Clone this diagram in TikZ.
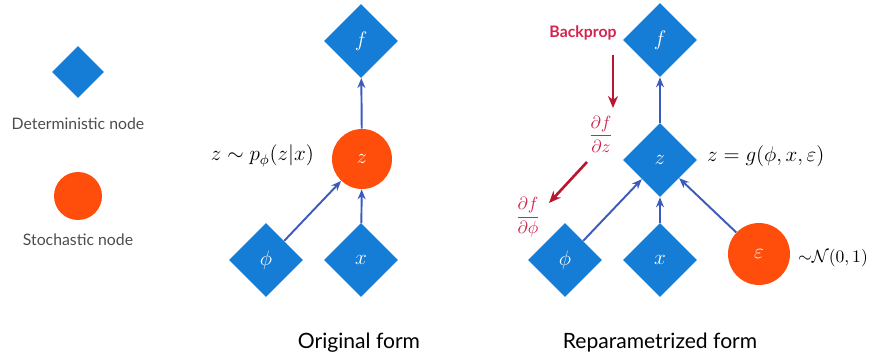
\documentclass[tikz,border=0pt]{standalone}
\usepackage{amsmath,amssymb}
\usepackage{fontspec}
\usepackage{xcolor}
\usepackage{tikz}
\usetikzlibrary{arrows.meta,shapes.geometric}
\newfontfamily\gill{Lato}
\definecolor{detblue}{RGB}{22,125,215}
\definecolor{stochorange}{RGB}{255,78,12}
\definecolor{edgeblue}{RGB}{60,90,190}
\definecolor{backred}{RGB}{185,22,48}
\definecolor{labred}{RGB}{210,36,78}

\begin{document}
\begin{tikzpicture}[x=0.02cm, y=-0.02cm,
  det/.style={diamond, fill=detblue, inner sep=0pt, minimum width=1.48cm,
              minimum height=1.48cm, text=white, font=\large},
  sto/.style={circle, fill=stochorange, inner sep=0pt, minimum size=1.2cm,
              text=white, font=\large},
  arr/.style={-{Stealth[length=2mm,width=1.6mm]}, draw=edgeblue, line width=1.1pt},
  back/.style={-{Stealth[length=2.4mm,width=2mm]}, draw=backred, line width=1.5pt},
  legend/.style={font=\gill\small, text=black!70},
  caption/.style={font=\gill\large}]
\useasboundingbox (0,0) rectangle (875,361);
% legend
\node[det, minimum width=1.04cm, minimum height=1.04cm] (legdet) at (78,72) {};
\node[legend] (legdettxt) at (78,124) {Deterministic node};
\node[sto, minimum size=0.96cm] (legsto) at (78,196) {};
\node[legend] (legstotxt) at (78,240) {Stochastic node};
% original form
\node[det] (f1) at (361,41) {$f$};
\node[sto] (z1) at (362,159) {$z$};
\node[det] (phi1) at (266,260) {$\phi$};
\node[det] (x1) at (361,260) {$x$};
\node[font=\large, anchor=east] (zdist) at (320,156) {$z \sim p_{\phi}(z|x)$};
\draw[arr] (z1) -- (f1);
\draw[arr] (phi1) -- (z1);
\draw[arr] (x1) -- (z1);
\node[caption] (cap1) at (359,343) {Original form};
% reparametrized form
\node[det] (f2) at (660,40) {$f$};
\node[det] (z2) at (660,160) {$z$};
\node[det] (phi2) at (565,260) {$\phi$};
\node[det] (x2) at (660,260) {$x$};
\node[sto, minimum size=1.24cm] (eps) at (759,254) {$\varepsilon$};
\node[font=\large, anchor=west] (zfun) at (701,156) {$z = g(\phi, x, \varepsilon)$};
\node[anchor=west, inner sep=1pt] (epsdist) at (796,258) {${\sim}\mathcal{N}(0,1)$};
\draw[arr] (z2) -- (f2);
\draw[arr] (phi2) -- (z2);
\draw[arr] (x2) -- (z2);
\draw[arr] (eps) -- (z2);
\node[caption] (cap2) at (660,343) {Reparametrized form};
% backprop
\node[font=\gill\small\bfseries, text=labred] (bp) at (583,33) {Backprop};
\coordinate (bp1s) at (613,55);
\coordinate (bp1e) at (613,108);
\draw[back] (bp1s) -- (bp1e);
\node[text=labred] (dfdz) at (601,134) {$\dfrac{\partial f}{\partial z}$};
\coordinate (bp2s) at (587,162);
\coordinate (bp2e) at (549,203);
\draw[back] (bp2s) -- (bp2e);
\node[text=labred] (dfdphi) at (528,217) {$\dfrac{\partial f}{\partial \phi}$};
\end{tikzpicture}
\end{document}
